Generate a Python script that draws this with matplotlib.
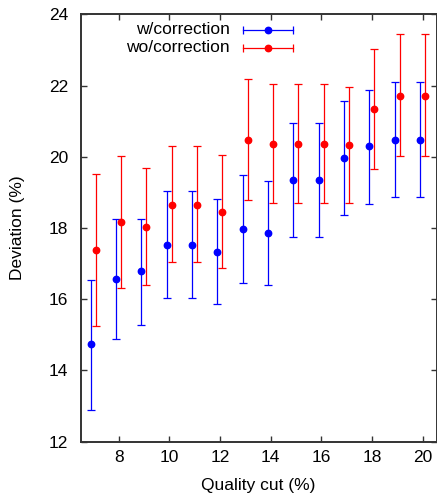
import matplotlib
matplotlib.use('Agg')
import matplotlib.pyplot as plt
import numpy as np

plt.rcParams['font.family'] = ['Liberation Sans', 'DejaVu Sans']

# Quality cut (%)
quality_cut = np.arange(7, 21)

# w/correction: value, upper end, lower end of error bar
w_val = [14.73, 16.56, 16.78, 17.53, 17.53, 17.34, 17.97, 17.86, 19.35, 19.35, 19.96, 20.29, 20.48, 20.48]
w_hi = [16.53, 18.24, 18.24, 19.04, 19.04, 18.82, 19.48, 19.33, 20.95, 20.95, 21.57, 21.88, 22.10, 22.10]
w_lo = [12.90, 14.87, 15.29, 16.03, 16.03, 15.88, 16.47, 16.39, 17.76, 17.76, 18.36, 18.68, 18.87, 18.87]

# wo/correction
wo_val = [17.37, 18.16, 18.04, 18.66, 18.66, 18.44, 20.48, 20.36, 20.36, 20.36, 20.33, 21.34, 21.72, 21.72]
wo_hi = [19.53, 20.03, 19.68, 20.29, 20.29, 20.05, 22.18, 22.04, 22.04, 22.04, 21.95, 23.02, 23.44, 23.44]
wo_lo = [15.24, 16.33, 16.41, 17.05, 17.05, 16.88, 18.79, 18.70, 18.70, 18.70, 18.70, 19.65, 20.03, 20.03]

fig = plt.figure(figsize=(4.37, 4.96), dpi=100)
ax = fig.add_axes([0.1844, 0.1095, 0.8146, 0.8615])

offset = 0.1
series = [
    (w_val, w_hi, w_lo, 'blue', -offset, 'w/correction'),
    (wo_val, wo_hi, wo_lo, 'red', offset, 'wo/correction'),
]
for val, hi, lo, col, dx, lab in series:
    val = np.array(val); hi = np.array(hi); lo = np.array(lo)
    ax.errorbar(quality_cut + dx, val, yerr=[val - lo, hi - val], fmt='o',
                color=col, ms=4.6, elinewidth=0.9, capsize=2.6, capthick=0.9)

# gnuplot-style key: right-aligned text, horizontal error-bar sample
key_rows = [0.964, 0.922]
for (val, hi, lo, col, dx, lab), yk in zip(series, key_rows):
    ax.text(0.42, yk, lab, transform=ax.transAxes, ha='right', va='center', fontsize=12.5)
    ax.plot([0.456, 0.597], [yk, yk], color=col, lw=0.9, transform=ax.transAxes)
    ax.plot([0.456, 0.597], [yk, yk], color=col, ls='none', marker='|', ms=5.5, mew=0.9,
            transform=ax.transAxes)
    ax.plot([0.527], [yk], color=col, marker='o', ms=4.6, ls='none', transform=ax.transAxes)

ax.set_xlim(6.5, 20.55)
ax.set_ylim(12, 24)
ax.set_xticks(np.arange(8, 21, 2))
ax.set_yticks(np.arange(12, 25, 2))
ax.tick_params(direction='in', length=4, width=1, top=True, right=True, labelsize=12.5, color='#333333')
ax.tick_params(axis='x', pad=6)
ax.tick_params(axis='y', pad=9)
for s in ax.spines.values():
    s.set_linewidth(1.4)
    s.set_color('#333333')

ax.set_xlabel('Quality cut (%)', fontsize=12.5, labelpad=9)
ax.set_ylabel('Deviation (%)', fontsize=12.5, labelpad=17)

fig.savefig('out.png', dpi=100)
